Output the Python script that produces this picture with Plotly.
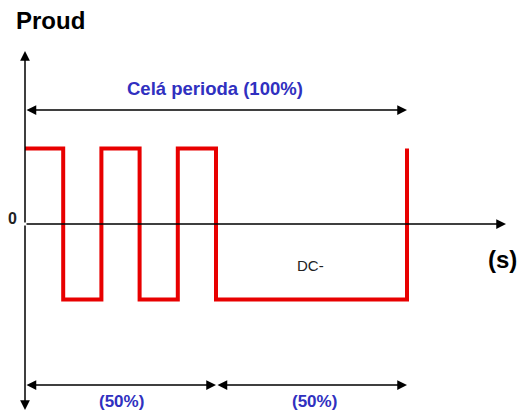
import plotly.graph_objects as go

# Data: current waveform (time in % of period, current level)
time_pct = [0, 10, 10, 20, 20, 30, 30, 40, 40, 50, 50, 100, 100]
current = [1, 1, -1, -1, 1, 1, -1, -1, 1, 1, -1, -1, 1]

period_label = "Celá perioda (100%)"
half_labels = ["(50%)", "(50%)"]
half_bounds = [0, 50, 100]

W, H = 518, 412
X0, SX = 25, 3.82      # pixel x of t=0, pixels per unit
Y0, SY = 224, 75.5     # pixel y of I=0, pixels per unit

def dx(px):
    return (px - X0) / SX

def dy(py):
    return (Y0 - py) / SY

fig = go.Figure()
fig.add_trace(go.Scatter(x=time_pct, y=current, mode="lines",
                         line=dict(color="#e80000", width=4),
                         hoverinfo="skip", showlegend=False))

ann = []
BLACK = "#000000"
BLUE = "#3030c0"

def arrow(x1, y1, x0, y0, both=False):
    ann.append(dict(x=x1, y=y1, ax=x0, ay=y0, xref="x", yref="y",
                    axref="x", ayref="y", text="", showarrow=True,
                    arrowhead=2, arrowsize=1.3, arrowwidth=1.5,
                    arrowcolor=BLACK,
                    arrowside="end+start" if both else "end",
                    startarrowhead=2, startarrowsize=1.3))

# axes
arrow(0, dy(51), 0, 0)
arrow(0, dy(410), 0, 0)
arrow(dx(506), 0, 0, 0)

# period arrows
arrow(half_bounds[2], dy(110), half_bounds[0], dy(110), both=True)
arrow(half_bounds[1], dy(385), half_bounds[0], dy(385), both=True)
arrow(half_bounds[2], dy(385), half_bounds[1], dy(385), both=True)

def text(x, y, t, size, color, bold=True, xanchor="center"):
    ann.append(dict(x=x, y=y, xref="x", yref="y", text=f"<b>{t}</b>" if bold else t,
                    showarrow=False, xanchor=xanchor, yanchor="middle",
                    borderpad=0,
                    font=dict(family="Liberation Sans, Arial", size=size, color=color)))

text(dx(15), dy(20), "Proud", 24, BLACK, xanchor="left")
text(dx(215), dy(88), period_label, 18.5, BLUE)
text(dx(121), dy(401), half_labels[0], 17, BLUE)
text(dx(314), dy(401), half_labels[1], 17, BLUE)
text(dx(502), dy(259), "(s)", 24, BLACK)
text(dx(310), dy(265), "DC-", 15, "#222222", bold=False)
text(dx(12.5), dy(218), "0", 16, "#222222")

fig.update_layout(
    width=W, height=H,
    margin=dict(l=0, r=0, t=0, b=0),
    paper_bgcolor="white", plot_bgcolor="white",
    xaxis=dict(range=[dx(0), dx(W)], visible=False, fixedrange=True),
    yaxis=dict(range=[dy(H), dy(0)], visible=False, fixedrange=True),
    annotations=ann,
    showlegend=False,
)
fig.write_html("out.html", config={"displayModeBar": False},
               post_script="document.body.style.margin='0';document.body.style.overflow='hidden';")
